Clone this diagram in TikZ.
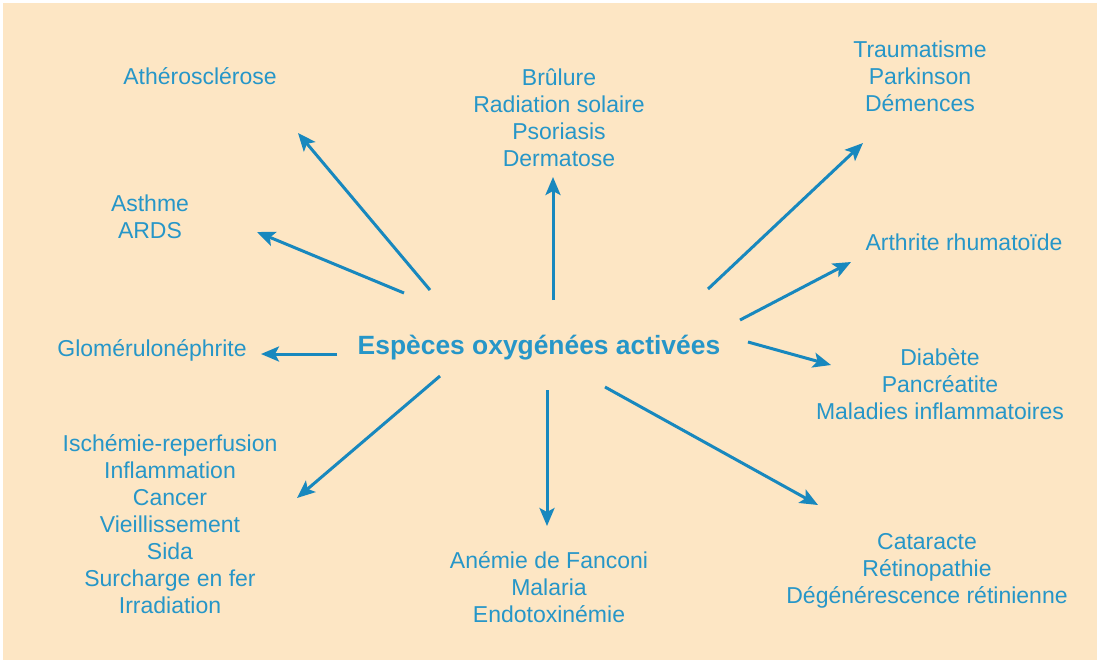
\documentclass[tikz,border=0pt]{standalone}
\usepackage{fontspec}
\setmainfont{Liberation Sans}
\usetikzlibrary{arrows.meta}
\definecolor{peach}{RGB}{253,230,196}
\definecolor{espblue}{RGB}{24,136,190}
\definecolor{esptext}{RGB}{38,150,200}

\begin{document}
\begin{tikzpicture}[x=0.5pt, y=-0.5pt,
    font=\fontsize{11.5}{13.5}\selectfont,
    every node/.style={text=esptext, align=center, inner sep=0pt},
    fleche/.style={draw=espblue, line width=1.5pt, -{Stealth[length=9pt, width=7.5pt, inset=2pt]}}]
      \fill[white] (0, 0) rectangle (1098, 661);
      \fill[peach] (3, 3) rectangle (1097, 660);
      \useasboundingbox (0, 0) rectangle (1098, 661);

      % centre
      \node[font=\fontsize{13.2}{15}\selectfont\bfseries] (eoa) at (539, 348) {Espèces oxygénées activées};

      % pathologies
      \node (athero) at (200, 76) {Athérosclérose};
      \node (asthme) at (150, 217) {Asthme\\ARDS};
      \node (glomer) at (152, 350) {Glomérulonéphrite};
      \node (ischem) at (170, 524) {Ischémie-reperfusion\\Inflammation\\Cancer\\Vieillissement\\Sida\\Surcharge en fer\\Irradiation};
      \node (brulure) at (559, 118) {Brûlure\\Radiation solaire\\Psoriasis\\Dermatose};
      \node (trauma) at (920, 76) {Traumatisme\\Parkinson\\Démences};
      \node (arthr) at (964, 242) {Arthrite rhumatoïde};
      \node (diab) at (940, 384) {Diabète\\Pancréatite\\Maladies inflammatoires};
      \node (anemie) at (549, 587) {Anémie de Fanconi\\Malaria\\Endotoxinémie};
      \node (catar) at (927, 571) {Cataracte\\Rétinopathie\\Dégénérescence rétinienne};

      % fleches
      \coordinate (a1) at (430, 290);  \coordinate (b1) at (298, 133);
      \coordinate (a2) at (404, 293);  \coordinate (b2) at (257, 232);
      \coordinate (a3) at (337, 354);  \coordinate (b3) at (261, 354);
      \coordinate (a4) at (440, 376);  \coordinate (b4) at (297, 498);
      \coordinate (a5) at (553, 300);  \coordinate (b5) at (553, 177);
      \coordinate (a6) at (547, 390);  \coordinate (b6) at (547, 526);
      \coordinate (a7) at (605, 387);  \coordinate (b7) at (818, 505);
      \coordinate (a8) at (708, 289);  \coordinate (b8) at (863, 143);
      \coordinate (a9) at (740, 320);  \coordinate (b9) at (851, 262);
      \coordinate (a10) at (748, 342); \coordinate (b10) at (831, 365);
      \foreach \i in {1,...,10}
        \draw[fleche] (a\i) -- (b\i);
    \end{tikzpicture}
\end{document}
